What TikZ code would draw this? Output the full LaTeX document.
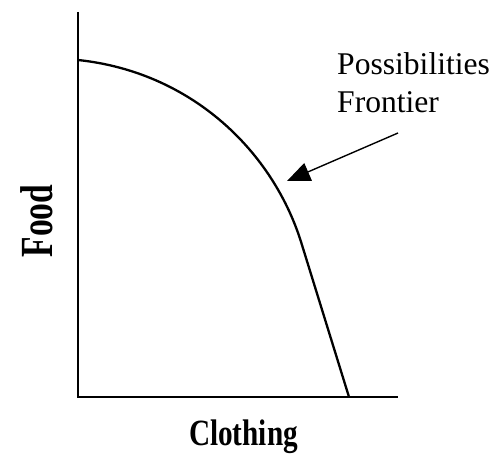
\documentclass[tikz,border=0pt]{standalone}
\usepackage{fontspec}
\setmainfont{Liberation Serif}
\usetikzlibrary{arrows.meta}
\begin{document}
\begin{tikzpicture}[x=1pt,y=-1pt,
  axis/.style={line width=1.4pt},
  frontier/.style={line width=2.3pt},
  pointer/.style={line width=1.4pt,-{Triangle[length=23pt,width=19pt]}},
  label/.style={inner sep=0pt,font=\fontsize{31.6}{38}\selectfont},
  axislabel/.style={inner sep=0pt}]
\useasboundingbox (0,0) rectangle (493,457);
\coordinate (top) at (78,12);
\coordinate (origin) at (78,397);
\coordinate (xend) at (398,397);
\coordinate (ystart) at (78,60);
\coordinate (bend) at (302,245);
\coordinate (xhit) at (349,397);
\draw[axis] (top) -- (origin) -- (xend);
\draw[frontier] (ystart) .. controls (192,72) and (274,152) .. (bend) -- (xhit);
\node[label,anchor=base west] (possib) at (337,75) {Possibilities};
\node[label,anchor=base west] (front) at (337,113) {Frontier};
\coordinate (tail) at (398,133);
\coordinate (tip) at (287,181);
\draw[pointer] (tail) -- (tip);
\node[axislabel,anchor=base,rotate=90,font=\fontsize{46}{52}\selectfont\bfseries] (food) at (52,221) {\scalebox{0.73}[1]{Food}};
\node[axislabel,anchor=base,font=\fontsize{37}{42}\selectfont\bfseries] (cloth) at (243.5,445) {\scalebox{0.79}[1]{Clothing}};
\end{tikzpicture}
\end{document}
